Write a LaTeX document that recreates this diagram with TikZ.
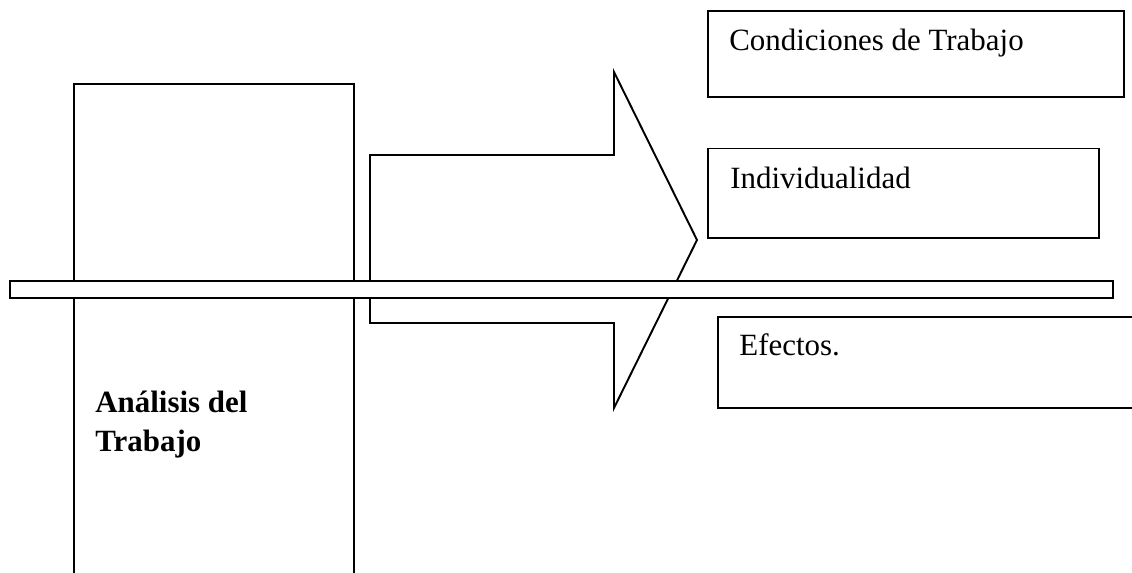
\documentclass[tikz,border=0pt]{standalone}
\usepackage{fontspec}
\setmainfont{Liberation Serif}
\begin{document}
\begin{tikzpicture}[x=0.02cm,y=-0.02cm,
  shape line/.style={draw=black,line width=1.1pt,line join=miter},
  label text/.style={anchor=base west,inner sep=0pt,font=\fontsize{17.6}{21}\selectfont},
  bold text/.style={label text,font=\fontsize{17.6}{21}\selectfont\bfseries}]
\clip (0,0) rectangle (1132,573);
\fill[white] (0,0) rectangle (1132,573);
% left tall box (open at the bottom, cut by the page edge)
\draw[shape line] (74,600) -- (74,84) -- (354,84) -- (354,600);
\node[bold text] (ana1) at (95,413) {Análisis del};
\node[bold text] (ana2) at (95,452) {Trabajo};
% block arrow
\draw[shape line,fill=white] (370,155) -- (614,155) -- (614,72) -- (697,240)
  -- (614,408) -- (614,323) -- (370,323) -- cycle;
% right boxes
\draw[shape line] (708,11) rectangle (1124,97);
\node[label text] (cond) at (729,51) {Condiciones de Trabajo};
\draw[shape line] (708,148.5) rectangle (1099,238);
\node[label text] (indiv) at (730,189) {Individualidad};
\draw[shape line] (718,317) rectangle (1145,408);
\node[label text] (efec) at (739,356) {Efectos.};
% horizontal bar on top
\draw[shape line,fill=white] (10,281) rectangle (1113,298);
\end{tikzpicture}
\end{document}
